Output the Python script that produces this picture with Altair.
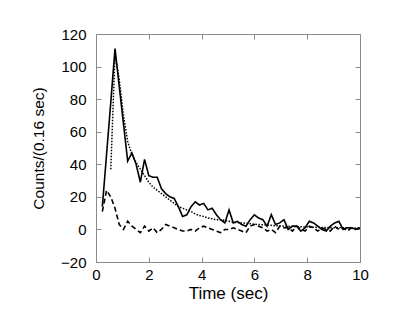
import altair as alt
import pandas as pd

TIME = [0.24, 0.40, 0.56, 0.72, 0.88, 1.04, 1.20, 1.36, 1.52, 1.68, 1.84, 2.00, 2.16, 2.32, 2.48,
        2.64, 2.80, 2.96, 3.12, 3.28, 3.44, 3.60, 3.76, 3.92, 4.08, 4.24, 4.40, 4.56, 4.72, 4.88,
        5.04, 5.20, 5.36, 5.52, 5.68, 5.84, 6.00, 6.16, 6.32, 6.48, 6.64, 6.80, 6.96, 7.12, 7.28,
        7.44, 7.60, 7.76, 7.92, 8.08, 8.24, 8.40, 8.56, 8.72, 8.88, 9.04, 9.20, 9.36, 9.52, 9.68,
        9.84, 10.00]

SOLID = [14, 46, 78, 111, 88, 65, 42, 47, 40, 29,
         43, 33, 32, 32, 25, 22, 20, 19, 14, 8,
         9, 14, 17, 15, 16, 12, 13, 9, 6, 4,
         12, 4, 5, 3, 2, 6, 9, 7, 6, 2,
         9, 3, 4, 6, 0, 2, 2, -1, 1, 5,
         4, 2, 0, -1, 2, 4, 5, 0, 1, 1,
         0, 1]

DOTTED_TIME = TIME[2:]
DOTTED = [37, 108, 92, 70, 54, 46, 41, 37, 33, 29,
          26, 24, 22, 20, 18, 16, 14, 13, 12, 11,
          9.5, 8.5, 8, 7, 6.5, 6, 6, 5.5, 5, 4.5,
          4.2, 4, 3.8, 3.5, 3.2, 3, 2.9, 2.7, 2.5, 2.3,
          2.2, 2, 1.9, 1.8, 1.7, 1.6, 1.5, 1.4, 1.3, 1.3,
          1.2, 1.2, 1.1, 1.1, 1, 1, 1, 0.9, 0.9, 0.9]

DASHED = [11, 24, 20, 13, 3, 0, 5, 2, 0, -2,
          2, -1, 1, -2, 0, 3, 2, 1, 0, -1,
          -1, 0, -1, 1, 2, 1, 0, -1, -2, 0,
          0, 1, 0, -1, -2, 2, 3, 2, 1, -1,
          0, -2, 2, 1, 1, -1, 2, 0, -1, 2,
          1, -1, 1, 0, -1, 2, 0, 1, -1, 1,
          0, 1]

X_TICKS = [0, 2, 4, 6, 8, 10]
Y_TICKS = [-20, 0, 20, 40, 60, 80, 100, 120]

W, H = 264, 228
FONT = "Liberation Sans"
FRAME = "#8a8a8a"

df_solid = pd.DataFrame({"t": TIME, "c": SOLID})
df_dot = pd.DataFrame({"t": DOTTED_TIME, "c": DOTTED})
df_dash = pd.DataFrame({"t": TIME, "c": DASHED})

xs = alt.Scale(domain=[0, 10], nice=False, zero=False)
ys = alt.Scale(domain=[-20, 120], nice=False, zero=False)

common = dict(grid=False, domain=False, labelFont=FONT, titleFont=FONT,
              labelColor="black", titleColor="black", tickColor=FRAME,
              labelFlush=False)

solid = alt.Chart(df_solid).mark_line(color="black", strokeWidth=1.6).encode(
    x=alt.X("t:Q", scale=xs, axis=alt.Axis(
        orient="bottom", values=X_TICKS, ticks=False, labelPadding=5,
        labelFontSize=15, title="Time (sec)", titleFontSize=17,
        titleFontWeight="normal", titleX=W / 2, titleY=36,
        titleBaseline="alphabetic", **common)),
    y=alt.Y("c:Q", scale=ys, axis=alt.Axis(
        orient="left", values=Y_TICKS, ticks=False, labelPadding=10,
        labelFontSize=15, title="Counts/(0.16 sec)", titleFontSize=15.5,
        titleFontWeight="normal", titleAngle=270, titleX=-53, titleY=H / 2,
        titleAlign="center", titleBaseline="alphabetic", **common)),
)

dotted = alt.Chart(df_dot).mark_line(color="black", strokeWidth=1.5, strokeDash=[1.5, 1.5]).encode(
    x=alt.X("t:Q", scale=xs, axis=alt.Axis(
        orient="top", offset=-H, values=X_TICKS, labels=False, ticks=True,
        tickSize=5, title="", **common)),
    y=alt.Y("c:Q", scale=ys, axis=alt.Axis(
        orient="right", offset=-W, values=Y_TICKS, labels=False, ticks=True,
        tickSize=5, title="", **common)),
)

dashed = alt.Chart(df_dash).mark_line(color="black", strokeWidth=1.6, strokeDash=[5, 3]).encode(
    x=alt.X("t:Q", scale=xs, axis=alt.Axis(
        orient="bottom", offset=-H, values=X_TICKS, labels=False, ticks=True,
        tickSize=5, title="", **common)),
    y=alt.Y("c:Q", scale=ys, axis=alt.Axis(
        orient="left", offset=-W, values=Y_TICKS, labels=False, ticks=True,
        tickSize=5, title="", **common)),
)

chart = alt.layer(solid, dotted, dashed).resolve_axis(
    x="independent", y="independent"
).properties(
    width=W, height=H,
    autosize=alt.AutoSizeParams(type="none"),
    padding={"left": 88, "top": 26, "right": 47, "bottom": 42},
    background="white",
).configure_view(stroke=FRAME, strokeWidth=1)

chart.save("out.html", embed_options={"renderer": "svg", "actions": False})
